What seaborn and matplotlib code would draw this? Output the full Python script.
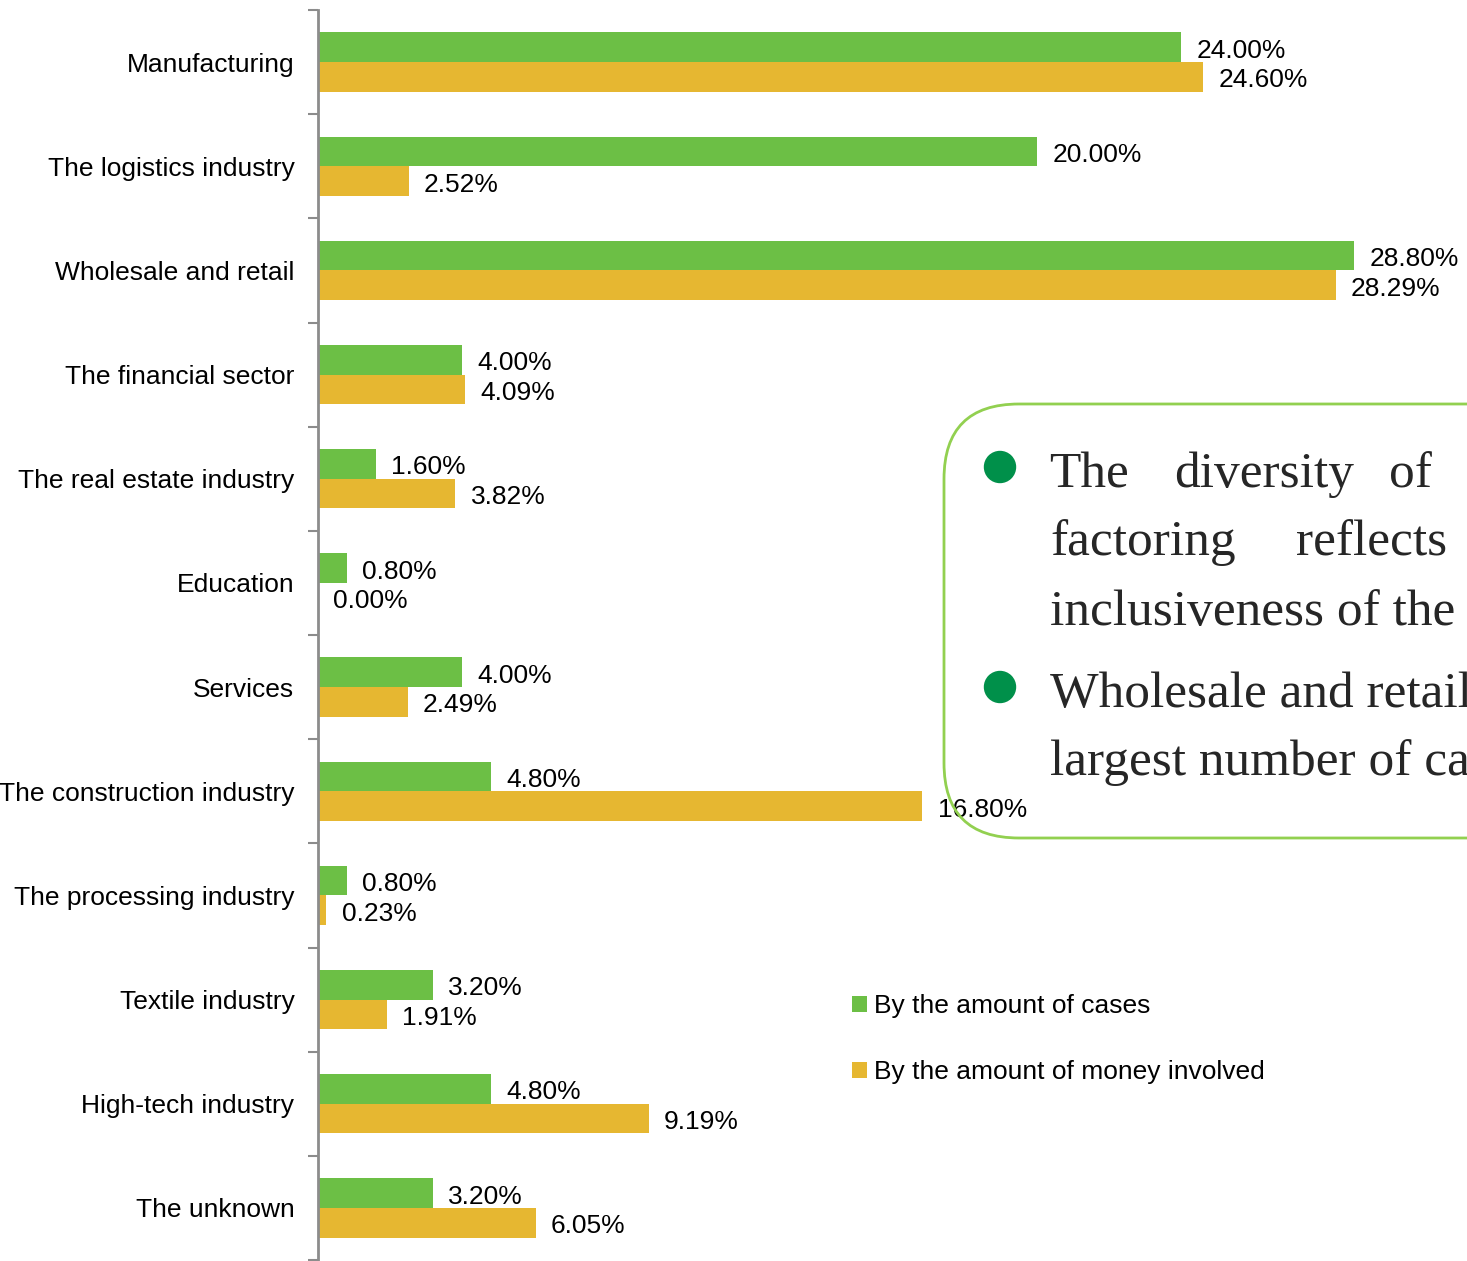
import matplotlib
matplotlib.use("Agg")
import matplotlib.pyplot as plt
from matplotlib.patches import FancyBboxPatch, Circle
import seaborn as sns
import pandas as pd

categories = [
    "Manufacturing", "The logistics industry", "Wholesale and retail",
    "The financial sector", "The real estate industry", "Education",
    "Services", "The construction industry", "The processing industry",
    "Textile industry", "High-tech industry", "The unknown",
]
cases_pct = [24.00, 20.00, 28.80, 4.00, 1.60, 0.80, 4.00, 4.80, 0.80, 3.20, 4.80, 3.20]
money_pct = [24.60, 2.52, 28.29, 4.09, 3.82, 0.00, 2.49, 16.80, 0.23, 1.91, 9.19, 6.05]
series_names = ["By the amount of cases", "By the amount of money involved"]

green = "#6CBF45"
gold = "#E6B731"

df = pd.DataFrame({
    "category": categories * 2,
    "value": cases_pct + money_pct,
    "series": [series_names[0]] * len(categories) + [series_names[1]] * len(categories),
})

sns.set_theme(style="white")
plt.rcParams["font.family"] = ["Liberation Sans", "DejaVu Sans"]

W, H = 1467, 1261
fig = plt.figure(figsize=(W / 100, H / 100), dpi=100)
fig.patch.set_facecolor("white")

x0 = 318
px_per_pct = 35.97
ax = fig.add_axes([x0 / W, 1 - 1260 / H, 1 - x0 / W, 1250 / H])
sns.barplot(data=df, y="category", x="value", hue="series", orient="h",
            palette=[green, gold], width=0.57, gap=0, saturation=1,
            order=categories, ax=ax, legend=True, linewidth=0, edgecolor="none")
ax.set_xlim(0, (W - x0) / px_per_pct)
ax.set_ylim(len(categories) - 0.5, -0.5)
ax.set_facecolor("none")

for c in ax.containers:
    labels = ax.bar_label(c, fmt="{:.2f}%", padding=11, fontsize=19, color="black")
    for t in labels:
        t.set_y(-2.5)  # small downward offset (points) onto the bar's centre line

for s in ["top", "right", "bottom"]:
    ax.spines[s].set_visible(False)
ax.spines["left"].set_color("#8C8C8C")
ax.spines["left"].set_linewidth(2)

ax.set_xticks([])
ax.set_xlabel("")
ax.set_ylabel("")
bounds = [i - 0.5 for i in range(len(categories) + 1)]
ax.set_yticks(bounds)
ax.set_yticklabels([])
ax.tick_params(axis="y", which="major", length=7, width=1.5, color="#8C8C8C", left=True)
ax.set_yticks(range(len(categories)), minor=True)
ax.set_yticklabels(categories, minor=True, fontsize=19, color="black")
ax.tick_params(axis="y", which="minor", length=0, pad=17)

leg = ax.legend(loc="upper left", bbox_to_anchor=(852 / W, 1 - 994 / H),
                bbox_transform=fig.transFigure, frameon=False, fontsize=19,
                handlelength=0.55, handleheight=0.55, handletextpad=0.3,
                labelspacing=1.6, borderpad=0, borderaxespad=0)
for t in leg.get_texts():
    t.set_color("black")

# Overlay in pixel coordinates for the note box
ov = fig.add_axes([0, 0, 1, 1])
ov.set_xlim(0, W)
ov.set_ylim(H, 0)
ov.axis("off")
ov.patch.set_alpha(0)

box = FancyBboxPatch((944, 404), 800, 434,
                     boxstyle="round,pad=0,rounding_size=75",
                     facecolor="none", edgecolor="#92D050", linewidth=2)
ov.add_patch(box)

bullet = "#00904A"
for cy in [467, 687]:
    ov.add_patch(Circle((1000, cy), 15.5, color=bullet))

serif = dict(family=["Liberation Serif", "DejaVu Serif"], fontsize=37,
             color="#262626", va="baseline", ha="left")
note_words = [
    ("The", 1049, 487), ("diversity", 1174, 487), ("of", 1389, 487),
    ("factoring", 1050, 555), ("reflects", 1296, 555),
    ("inclusiveness of the", 1050, 625),
    ("Wholesale and retail", 1050, 707),
    ("largest number of cases", 1050, 775),
]
for word, x, y in note_words:
    ov.text(x, y, word, **serif)

fig.savefig("out.png", dpi=100)
